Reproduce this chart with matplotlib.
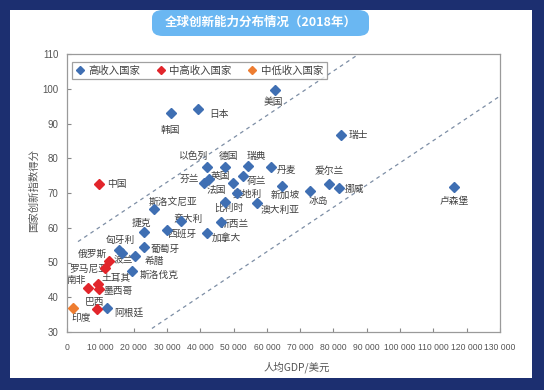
import matplotlib
matplotlib.use("Agg")
import matplotlib.pyplot as plt
from matplotlib.patches import Rectangle, FancyBboxPatch
from matplotlib.ticker import FuncFormatter
from matplotlib.lines import Line2D

plt.rcParams['font.family'] = ['Noto Sans CJK SC', 'DejaVu Sans']

# ---------------- data ----------------
high_names = ["韩国", "日本", "美国", "瑞士", "以色列", "德国", "瑞典", "丹麦", "芬兰", "英国",
              "法国", "荷兰", "奥地利", "比利时", "新加坡", "澳大利亚", "冰岛", "爱尔兰", "挪威",
              "卢森堡", "斯洛文尼亚", "意大利", "新西兰", "西班牙", "加拿大", "捷克", "葡萄牙",
              "匈牙利", "波兰", "希腊", "斯洛伐克", "阿根廷"]
high_gdp = [31100, 39200, 62400, 82400, 41900, 47400, 54400, 61200, 41100, 42700,
            49900, 52900, 51100, 47400, 64400, 57100, 72900, 78700, 81600,
            116100, 26000, 34100, 46100, 30000, 41900, 23200, 23200,
            15500, 16400, 20400, 19400, 11900]
high_score = [93.1, 94.1, 99.7, 86.7, 77.4, 77.4, 77.8, 77.4, 72.8, 74.0,
              72.9, 74.9, 69.9, 67.5, 72.0, 67.2, 70.5, 72.6, 71.5,
              71.8, 65.5, 61.8, 61.7, 59.3, 58.5, 58.9, 54.5,
              53.6, 52.8, 51.8, 47.6, 36.9]

upper_mid_names = ["中国", "俄罗斯", "罗马尼亚", "土耳其", "墨西哥", "南非", "巴西"]
upper_mid_gdp = [9700, 12600, 11500, 9400, 9700, 6400, 8900]
upper_mid_score = [72.5, 50.4, 48.3, 43.9, 42.5, 42.7, 36.7]

lower_mid_names = ["印度"]
lower_mid_gdp = [1900]
lower_mid_score = [36.9]

series_labels = ["高收入国家", "中高收入国家", "中低收入国家"]

# reference band (parallel dashed lines): slope and intercepts
band_slope = 0.00064
upper_intercept = 53.9
lower_intercept = 14.7
upper_x_range = [3300, 87650]
lower_x_range = [25500, 130000]

x_ticks = list(range(0, 130001, 10000))
y_ticks = list(range(30, 111, 10))

# label offsets in pixels (dx, dy) - styling only
label_offsets = {
    "韩国": (0, -17), "日本": (21, -5), "美国": (-1, -12), "瑞士": (17, 0),
    "以色列": (-13, 11), "德国": (4, 11), "瑞典": (8, 10), "丹麦": (16, -3),
    "芬兰": (-14, 4), "英国": (11, 3), "法国": (-17, -7), "荷兰": (13, -5),
    "奥地利": (10, 0), "比利时": (4, -6), "新加坡": (4, -9), "澳大利亚": (23, -7),
    "冰岛": (8, -10), "爱尔兰": (0, 13), "挪威": (16, -1), "卢森堡": (0, -14),
    "斯洛文尼亚": (19, 7), "意大利": (7, 2), "新西兰": (14, -2), "西班牙": (15, -4),
    "加拿大": (20, -5), "捷克": (-3, 9), "葡萄牙": (21, -2), "匈牙利": (2, 10),
    "波兰": (2, -7), "希腊": (19, -5), "斯洛伐克": (28, -4), "阿根廷": (22, -5),
    "中国": (18, 0), "俄罗斯": (-17, 7), "罗马尼亚": (-17, 0), "土耳其": (18, 6),
    "墨西哥": (19, -2), "南非": (-12, 8), "巴西": (-2, 7), "印度": (8, -10),
}

# ---------------- figure ----------------
W, H = 544, 390
fig = plt.figure(figsize=(W / 100, H / 100), dpi=100)
fig.patch.set_facecolor("#1c2f70")

# white panel
fig.patches.append(Rectangle((10 / W, 1 - 378 / H), 522 / W, 368 / H,
                             transform=fig.transFigure, facecolor="white",
                             edgecolor="none", zorder=0))
# title box
fig.patches.append(FancyBboxPatch((152 / W, 1 - 36 / H), 217 / W, 26 / H,
                                  boxstyle="round,pad=0,rounding_size=0.02",
                                  transform=fig.transFigure, facecolor="#6ab7f2",
                                  edgecolor="none", zorder=1))

ax = fig.add_axes([67 / W, 1 - 332 / H, 433 / W, 278 / H])
ax.set_zorder(5)
ax.set_facecolor("white")
ax.set_xlim(0, 130000)
ax.set_ylim(30, 110)

blue = "#3f6fb3"
red = "#e2252b"
orange = "#ee7d31"
line_col = "#7d8ea5"

for xr, b in [(upper_x_range, upper_intercept), (lower_x_range, lower_intercept)]:
    ys = [b + band_slope * xv for xv in xr]
    ax.plot(xr, ys, ls=(0, (3, 3)), color=line_col, lw=0.9, zorder=1)

ms = 5.3
ax.plot(high_gdp, high_score, ls="none", marker="D", ms=ms, color=blue, zorder=3)
ax.plot(upper_mid_gdp, upper_mid_score, ls="none", marker="D", ms=ms, color=red, zorder=3)
ax.plot(lower_mid_gdp, lower_mid_score, ls="none", marker="D", ms=ms, color=orange, zorder=3)

for names, xs, ys in [(high_names, high_gdp, high_score),
                      (upper_mid_names, upper_mid_gdp, upper_mid_score),
                      (lower_mid_names, lower_mid_gdp, lower_mid_score)]:
    for n, xv, yv in zip(names, xs, ys):
        dx, dy = label_offsets.get(n, (10, 0))
        ax.annotate(n, (xv, yv), xytext=(dx, dy), textcoords="offset pixels",
                    ha="center", va="center", fontsize=7, color="#404040", zorder=2)

ax.set_xticks(x_ticks)
ax.set_yticks(y_ticks)
ax.xaxis.set_major_formatter(FuncFormatter(lambda v, p: f"{int(v):,}".replace(",", " ")))
ax.tick_params(direction="in", length=3, color="#888888", labelcolor="#555555", pad=6)
ax.tick_params(axis="x", labelsize=6.2, pad=8)
ax.tick_params(axis="y", labelsize=7)
for lab in ax.get_xticklabels() + ax.get_yticklabels():
    lab.set_family(["Liberation Sans", "DejaVu Sans"])
for s in ax.spines.values():
    s.set_color("#9a9a9a")
    s.set_linewidth(0.9)

handles = [Line2D([], [], ls="none", marker="D", ms=4, color=c) for c in (blue, red, orange)]
leg = ax.legend(handles, series_labels, loc="upper left", bbox_to_anchor=(0.012, 0.972),
                ncol=3, fontsize=7.5, frameon=True, fancybox=False, borderaxespad=0,
                handlelength=0.8, handletextpad=0.4, columnspacing=1.6,
                borderpad=0.35)
leg.get_frame().set_edgecolor("#8a8a8a")
leg.get_frame().set_linewidth(0.9)
for t in leg.get_texts():
    t.set_color("#404040")

fig.text(261 / W, 1 - 22 / H, "全球创新能力分布情况（2018年）", color="white",
         fontsize=9, fontweight="bold", ha="center", va="center", zorder=10)
fig.text(297 / W, 1 - 367 / H, "人均GDP/美元", fontsize=7.5, color="#555555",
         ha="center", va="center", zorder=10)
fig.text(34 / W, 1 - 190 / H, "国家创新指数得分", fontsize=7.5, color="#555555",
         ha="center", va="center", rotation=90, zorder=10)

fig.savefig("out.png", dpi=100, facecolor=fig.get_facecolor())
